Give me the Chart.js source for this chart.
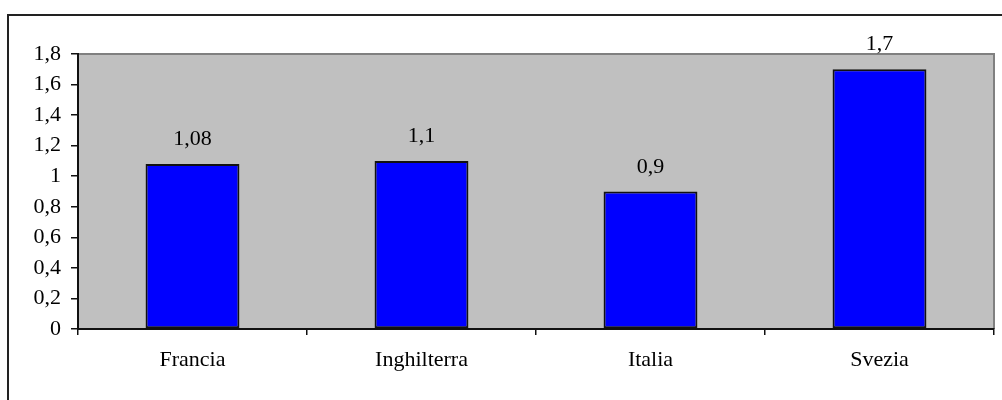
<!DOCTYPE html>
<html>
<head>
<meta charset="utf-8">
<script src="https://cdn.jsdelivr.net/npm/chart.js@4"></script>
<style>
  html, body { margin: 0; padding: 0; background: #ffffff; }
  #wrap { width: 1002px; height: 400px; position: relative; }
</style>
</head>
<body>
<div id="wrap"><canvas id="c" width="1002" height="400"></canvas></div>
<script>
const categories = ['Francia', 'Inghilterra', 'Italia', 'Svezia'];
const values = [1.08, 1.1, 0.9, 1.7];
const valueLabels = ['1,08', '1,1', '0,9', '1,7'];
const yTickLabels = ['0', '0,2', '0,4', '0,6', '0,8', '1', '1,2', '1,4', '1,6', '1,8'];

const FONT = '"Liberation Serif", "Times New Roman", serif';

const decor = {
  id: 'decor',
  beforeDraw(chart) {
    const ctx = chart.ctx;
    const a = chart.chartArea;
    ctx.save();
    ctx.fillStyle = '#ffffff';
    ctx.fillRect(0, 0, chart.width, chart.height);
    // outer frame (top and left visible)
    ctx.strokeStyle = '#222222';
    ctx.lineWidth = 2;
    ctx.beginPath();
    ctx.moveTo(8, chart.height + 2);
    ctx.lineTo(8, 15);
    ctx.lineTo(chart.width + 2, 15);
    ctx.stroke();
    // plot area
    ctx.fillStyle = '#C0C0C0';
    ctx.fillRect(a.left, a.top, a.right - a.left, a.bottom - a.top);
    ctx.strokeStyle = '#808080';
    ctx.lineWidth = 2;
    ctx.beginPath();
    ctx.moveTo(a.left, a.top);
    ctx.lineTo(a.right, a.top);
    ctx.lineTo(a.right, a.bottom);
    ctx.stroke();
    ctx.restore();
  },
  afterDatasetsDraw(chart) {
    const ctx = chart.ctx;
    const meta = chart.getDatasetMeta(0);
    ctx.save();
    ctx.fillStyle = '#000000';
    ctx.font = '22px ' + FONT;
    ctx.textAlign = 'center';
    ctx.textBaseline = 'alphabetic';
    meta.data.forEach((bar, i) => {
      ctx.fillText(valueLabels[i], bar.x, bar.y - 19);
    });
    ctx.restore();
  }
};

new Chart(document.getElementById('c'), {
  type: 'bar',
  data: {
    labels: categories,
    datasets: [{
      data: values,
      backgroundColor: '#0000FF',
      borderColor: '#111111',
      borderWidth: 2,
      borderSkipped: false,
      barPercentage: 0.41,
      categoryPercentage: 1.0
    }]
  },
  options: {
    responsive: false,
    animation: false,
    devicePixelRatio: 1,
    layout: { padding: { left: 0, top: 54, right: 8, bottom: 0 } },
    plugins: {
      legend: { display: false },
      tooltip: { enabled: false },
      title: { display: false }
    },
    scales: {
      x: {
        offset: true,
        grid: {
          offset: true,
          drawOnChartArea: false,
          drawTicks: true,
          tickLength: 6,
          color: '#111111',
          lineWidth: 1.5
        },
        border: { display: true, color: '#111111', width: 2 },
        ticks: {
          color: '#000000',
          font: { family: FONT, size: 22 },
          padding: 12,
          maxRotation: 0
        },
        afterFit(scale) { scale.height = 71; }
      },
      y: {
        min: 0,
        max: 1.8,
        grid: {
          drawOnChartArea: false,
          drawTicks: true,
          tickLength: 7,
          color: '#111111',
          lineWidth: 1.5
        },
        border: { display: true, color: '#111111', width: 2 },
        ticks: {
          stepSize: 0.2,
          color: '#000000',
          font: { family: FONT, size: 22 },
          padding: 10,
          callback(value, index) { return yTickLabels[index]; }
        },
        afterFit(scale) { scale.width = 78; }
      }
    }
  },
  plugins: [decor]
});
</script>
</body>
</html>
